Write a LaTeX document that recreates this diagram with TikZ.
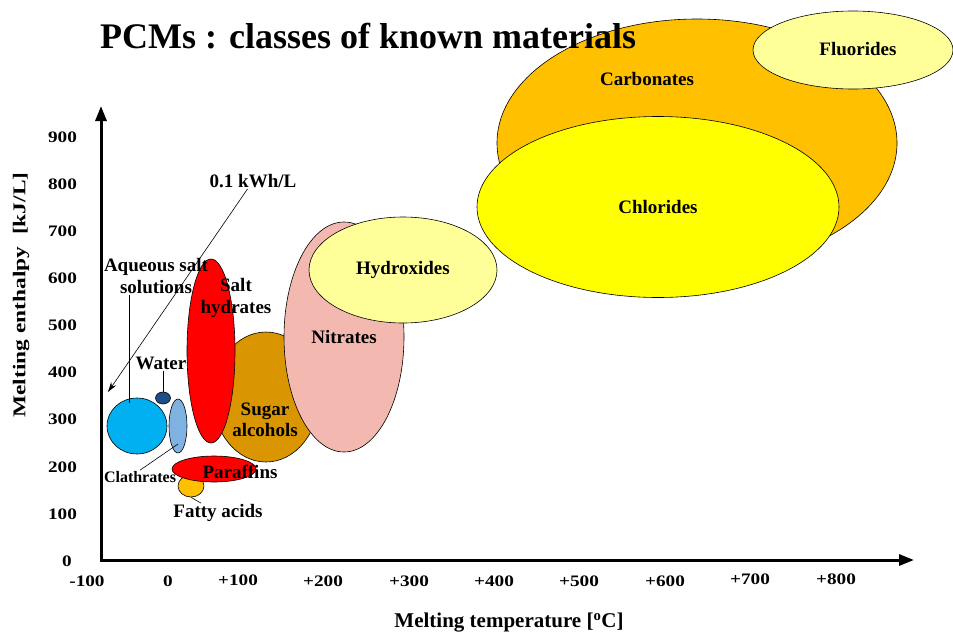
\documentclass[tikz,border=0pt]{standalone}
\usepackage{graphicx}
\usepackage{fontspec}
\setmainfont{Liberation Serif}
\usetikzlibrary{shapes.geometric,arrows.meta}

\definecolor{carbcol}{HTML}{FFC000}
\definecolor{chlorcol}{HTML}{FFFF00}
\definecolor{palecol}{HTML}{FFFF99}
\definecolor{nitrcol}{HTML}{F3B8B0}
\definecolor{sugarcol}{HTML}{DA9600}
\definecolor{saltcol}{HTML}{FF0000}
\definecolor{aqcol}{HTML}{00B0F0}
\definecolor{watercol}{HTML}{1B4F86}
\definecolor{clathcol}{HTML}{7FB2E0}

\begin{document}
\begin{tikzpicture}[x=1pt,y=-1pt]
	\tikzstyle{blob}=[ellipse,draw=black,line width=0.6pt,inner sep=0pt]
	\tikzstyle{lab}=[font=\bfseries\fontsize{19}{21.5}\selectfont,align=center,inner sep=1pt]
	\tikzstyle{tick}=[font=\bfseries\fontsize{16}{18}\selectfont,inner sep=0pt]
	\tikzstyle{pointer}=[draw=black,line width=0.6pt]
	\useasboundingbox (0,0) rectangle (953,635);

	% high temperature classes
	\node[blob,fill=carbcol,minimum width=400,minimum height=248](carb) at (697,143) {};
	\node[blob,fill=chlorcol,minimum width=362,minimum height=181,lab](chlor) at (658,207) {Chlorides};
	\node[blob,fill=palecol,minimum width=200,minimum height=78](fluor) at (853,50) {};
	\node[lab](fluorlab) at (858,49) {Fluorides};
	\node[lab](carblab) at (647,79) {Carbonates};
	\node[font=\bfseries\fontsize{36}{40}\selectfont,anchor=base west,inner sep=0pt](title) at (100,48) {PCMs : classes of known materials};

	% middle classes
	\node[blob,fill=sugarcol,minimum width=106,minimum height=130](sugar) at (266,397) {};
	\node[blob,fill=nitrcol,minimum width=120,minimum height=230,lab](nitr) at (344,337) {Nitrates};
	\node[blob,fill=palecol,minimum width=188,minimum height=106,lab](hydrox) at (403,270) {Hydroxides};
	\node[blob,fill=saltcol,minimum width=48,minimum height=184](salt) at (211,351) {};
	\node[lab](saltlab) at (236,298) {Salt\\hydrates};
	\node[lab](sugarlab) at (265,420) {Sugar\\alcohols};

	% low temperature classes
	\node[blob,fill=aqcol,minimum width=60,minimum height=56](aq) at (137,426) {};
	\node[blob,fill=watercol,minimum width=15,minimum height=12](water) at (163,398) {};
	\node[blob,fill=clathcol,minimum width=18,minimum height=54](clath) at (178,426) {};
	\node[blob,fill=carbcol,minimum width=26,minimum height=22](fatty) at (191,486) {};
	\node[blob,fill=saltcol,minimum width=84,minimum height=26](paraf) at (214,469) {};
	\node[lab](paraflab) at (240,472) {Paraffins};
	\node[lab](aqlab) at (156,276) {Aqueous salt\\solutions};
	\node[lab](waterlab) at (161,363) {Water};
	\node[lab,font=\bfseries\fontsize{16}{18}\selectfont](clathlab) at (140,477) {Clathrates};
	\node[lab](fattylab) at (218,513) {Fatty acids};
	\node[lab](kwhlab) at (253,181) {0.1 kWh/L};

	\coordinate (aqend) at (129,403);
	\coordinate (clathend) at (178,444);
	\coordinate (kwhtip) at (108,392);
	\draw[pointer] (aqlab.south -| aqend) -- (aqend);
	\draw[pointer] (waterlab.south -| water) -- (water);
	\draw[pointer] (clathlab.north) -- (clathend);
	\draw[pointer] (fatty.south) -- (fattylab);
	\draw[pointer,-{Stealth[length=10pt,width=6pt]}] (kwhlab) -- (kwhtip);

	% axes
	\coordinate (origin) at (101,560);
	\coordinate (ytop) at (101,106);
	\coordinate (xend) at (914,560);
	\draw[line width=3pt,{Triangle[length=15pt,width=11pt]}-{Triangle[length=15pt,width=11pt]}] (ytop) -- (origin) -- (xend);
	\node[tick](y0) at (67,561) {\scalebox{1.2}[1]{0}};
	\foreach \v in {100,200,...,900}
		\node[tick](y\v) at (62.5,{561-0.471*\v}) {\scalebox{1.2}[1]{\v}};
	\foreach \x/\y/\t [count=\n] in {87/581/-100,168/581/0,238/580/+100,323/581/+200,409/581/+300,494/581/+400,579/581/+500,665/581/+600,750/579/+700,836/579/+800}
		\node[tick](xt\n) at (\x,\y) {\scalebox{1.2}[1]{\t}};
	\node[font=\bfseries\fontsize{18}{20}\selectfont,rotate=90](ylab) at (21,295) {\scalebox{1.3}[1]{Melting enthalpy\ \ [kJ/L]}};
	\node[font=\bfseries\fontsize{21}{24}\selectfont](xlab) at (509,623) {Melting temperature [\textsuperscript{o}C]};
\end{tikzpicture}
\end{document}
